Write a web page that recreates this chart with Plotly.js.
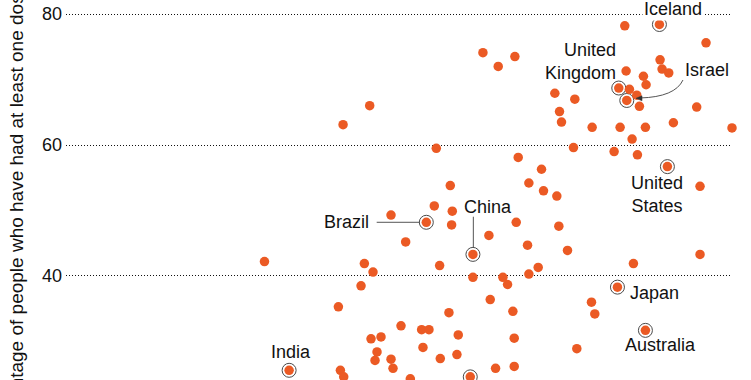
<!DOCTYPE html>
<html>
<head>
<meta charset="utf-8">
<script src="https://cdn.plot.ly/plotly-3.0.1.min.js"></script>
<style>
  html, body { margin: 0; padding: 0; background: #ffffff; }
  #chart { width: 751px; height: 380px; }
</style>
</head>
<body>
<div id="chart"></div>
<script>
// Country points (x: unlabelled horizontal measure, arbitrary 0-100 units read from position;
// y: percentage of people who have had at least one dose)
const dotX = [45.6, 41.6, 55.6, 57.7, 62.6, 64.9, 67.4, 73.4, 76.4, 74.1, 74.4, 79.0, 76.2, 67.9, 71.4, 69.5, 71.7, 73.7,
  83.9, 96.1, 89.2, 89.5, 90.5, 84.1, 86.7, 87.1, 84.6, 85.7, 86.1, 94.7, 100.1, 83.2, 87.0, 91.2, 100.0, 85.0, 82.3, 85.8, 95.2,
  55.3, 58.0, 48.8, 57.9, 51.0, 44.8, 56.1, 46.1, 44.3, 40.9, 57.5, 50.3, 53.4, 54.5, 58.9, 45.8, 47.3, 53.6, 46.7, 46.4, 48.8,
  56.2, 58.7, 41.2, 41.7, 49.1, 51.7, 52.5, 29.8, 63.5, 61.1, 65.6, 63.7, 67.6, 74.0, 69.3, 75.3, 70.9, 69.5, 66.3, 67.1,
  78.9, 79.4, 67.3, 76.7, 64.5, 67.3, 85.2, 95.2];
const dotY = [66.0, 63.1, 59.5, 53.8, 74.1, 72.0, 73.5, 67.9, 67.0, 65.1, 63.5, 62.7, 59.6, 58.1, 56.3, 54.2, 53.0, 52.2,
  78.2, 75.6, 73.0, 71.6, 71.0, 71.3, 70.5, 69.2, 68.5, 67.6, 65.9, 65.8, 66.9, 62.7, 62.7, 63.4, 62.6, 60.9, 59.0, 58.5, 53.7,
  50.7, 49.9, 49.3, 47.8, 45.2, 41.9, 41.6, 40.6, 38.5, 35.3, 34.4, 32.4, 31.8, 31.8, 31.0, 30.4, 30.7, 29.1, 28.4, 27.1, 27.3,
  27.4, 28.0, 25.6, 24.6, 25.9, 24.3, 24.0, 42.2, 46.2, 39.8, 39.8, 36.4, 48.2, 47.6, 44.7, 43.9, 41.3, 40.3, 38.7, 34.6,
  36.0, 34.2, 30.5, 28.9, 25.9, 26.2, 41.9, 43.3];

// Highlighted countries
const hlNames = ['Iceland', 'United Kingdom', 'Israel', 'United States', 'Brazil', 'China', 'Japan', 'Australia', 'India', ''];
const hlX = [89.1, 83.0, 84.2, 90.3, 54.1, 61.1, 82.8, 87.0, 33.5, 60.7];
const hlY = [78.4, 68.7, 66.8, 56.7, 48.2, 43.3, 38.3, 31.7, 25.6, 24.6];

// Y axis ticks
const yTicks = [20, 40, 60, 80];
const yTitle = 'Percentage of people who have had at least one dose';

const ORANGE = '#eb5a24';
const FONT = 'Liberation Sans, Arial, sans-serif';

const traces = [
  {
    type: 'scatter', mode: 'markers', x: hlX, y: hlY, text: hlNames,
    marker: { symbol: 'circle-open', size: 14, color: '#4a4a4a', line: { width: 1, color: '#4a4a4a' } },
    cliponaxis: false, hoverinfo: 'skip', showlegend: false
  },
  {
    type: 'scatter', mode: 'markers', x: dotX.concat(hlX), y: dotY.concat(hlY),
    marker: { symbol: 'circle', size: 9.5, color: ORANGE, line: { width: 0 } },
    cliponaxis: false, hoverinfo: 'skip', showlegend: false
  }
];

const lbl = (text, x, y, xanchor, extra) => Object.assign({
  text: text, x: x, y: y, xref: 'x', yref: 'y', xanchor: xanchor, yanchor: 'middle',
  showarrow: false, font: { family: FONT, size: 18, color: '#111111' }
}, extra || {});

const annotations = [
  lbl('Iceland', 91.07, 80.84, 'center', { bgcolor: '#ffffff', borderpad: 1 }),
  lbl('United<br>Kingdom', 82.81, 72.82, 'right', { align: 'right' }),
  lbl('Israel', 92.64, 71.45, 'left'),
  lbl('United<br>States', 88.74, 52.47, 'center', { align: 'center' }),
  lbl('Brazil', 45.72, 48.32, 'right'),
  lbl('China', 63.29, 50.46, 'center'),
  lbl('Japan', 84.43, 37.40, 'left'),
  lbl('Australia', 89.19, 29.39, 'center'),
  lbl('India', 33.71, 28.32, 'center'),
  {
    text: yTitle, xref: 'paper', yref: 'paper', x: -0.0751, y: 0.4447,
    xanchor: 'center', yanchor: 'middle', textangle: -90, showarrow: false,
    font: { family: FONT, size: 19, color: '#111111' }
  }
];

const shapes = [
  // Brazil leader
  { type: 'line', xref: 'x', yref: 'y', x0: 46.65, x1: 53.15, y0: 48.20, y1: 48.20, line: { color: '#555555', width: 1 } },
  // China leader
  { type: 'line', xref: 'x', yref: 'y', x0: 61.16, x1: 61.16, y0: 49.05, y1: 44.32, line: { color: '#555555', width: 1 } },
  // Israel curved arrow
  { type: 'path', xref: 'x', yref: 'y', path: 'M 92.64,69.92 Q 91.44,67.33 86.19,67.18', line: { color: '#555555', width: 1 } },
  { type: 'path', xref: 'x', yref: 'y', path: 'M 85.59,67.13 L 86.49,67.51 L 86.49,66.75 Z', fillcolor: '#333333', line: { color: '#333333', width: 0.5 } }
];

const layout = {
  width: 751, height: 380,
  margin: { l: 66, r: 19, t: 0, b: 0, pad: 0 },
  paper_bgcolor: '#ffffff', plot_bgcolor: '#ffffff',
  showlegend: false,
  xaxis: { range: [0, 100], visible: false, fixedrange: true },
  yaxis: {
    range: [24.12, 82.14], tickvals: yTicks, ticktext: yTicks.map(String),
    showgrid: true, gridcolor: '#111111', gridwidth: 1, griddash: '1px,2px',
    zeroline: false, showline: false, ticks: '', ticklabelstandoff: 3,
    tickfont: { family: FONT, size: 18, color: '#111111' }, fixedrange: true
  },
  annotations: annotations,
  shapes: shapes
};

Plotly.newPlot('chart', traces, layout, { staticPlot: true, displayModeBar: false });
</script>
</body>
</html>
